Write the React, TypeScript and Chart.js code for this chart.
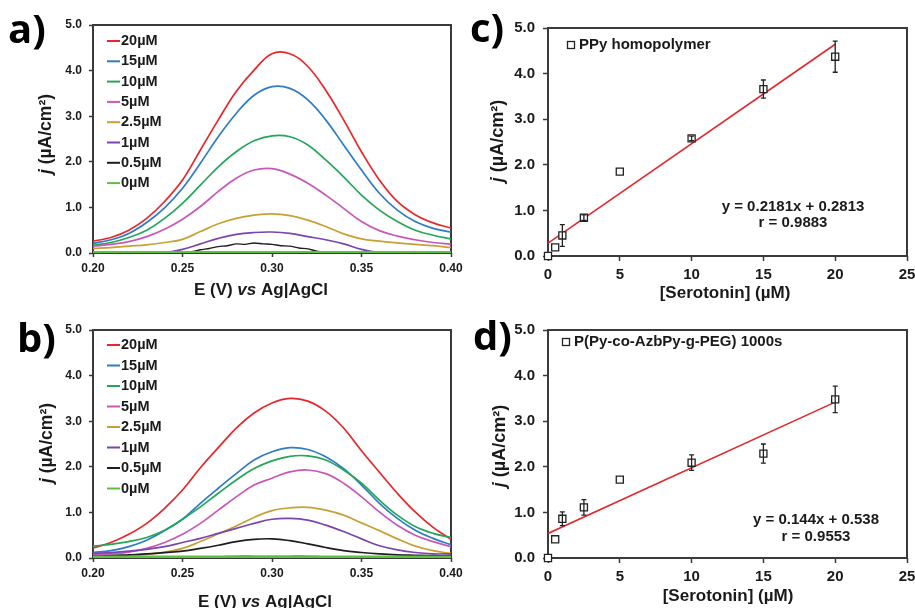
import React, { useEffect, useRef } from "react";
import { Chart, registerables } from "chart.js";
Chart.register(...registerables);

const FONT = '"Liberation Sans", Arial, Helvetica, sans-serif';
const LETTER_FONT = '"Open Sans", "DejaVu Sans", sans-serif';
const INK = "#1a1a1a";
const FRAME = "#3a3a3a";

// ---------- DATA ----------
const potential = [0.2, 0.21, 0.22, 0.23, 0.24, 0.25, 0.26, 0.27, 0.28, 0.29, 0.3, 0.31, 0.32, 0.33, 0.34, 0.35, 0.36, 0.37, 0.38, 0.39, 0.4];
const potentialFine = [0.2, 0.205, 0.21, 0.215, 0.22, 0.225, 0.23, 0.235, 0.24, 0.245, 0.25, 0.255, 0.26, 0.265, 0.27, 0.275, 0.28, 0.285, 0.29, 0.295, 0.3, 0.305, 0.31, 0.315, 0.32, 0.325, 0.33, 0.335, 0.34, 0.345, 0.35, 0.355, 0.36, 0.365, 0.37, 0.375, 0.38, 0.385, 0.39, 0.395, 0.4];

const concLabels = ["20µM", "15µM", "10µM", "5µM", "2.5µM", "1µM", "0.5µM", "0µM"];
const concColors = ["#E8262B", "#2E7BC6", "#23A65A", "#C857B8", "#C9A034", "#7A45B3", "#1E1E1E", "#5CC040"];

// panel a (PPy homopolymer DPV)
const a20 = [0.26, 0.34, 0.5, 0.76, 1.13, 1.6, 2.26, 2.92, 3.54, 4.01, 4.37, 4.37, 4.09, 3.57, 2.92, 2.22, 1.6, 1.13, 0.84, 0.66, 0.55];
const a15 = [0.21, 0.29, 0.43, 0.67, 0.99, 1.42, 1.97, 2.55, 3.06, 3.46, 3.65, 3.61, 3.36, 2.92, 2.37, 1.82, 1.31, 0.94, 0.69, 0.54, 0.46];
const a10 = [0.17, 0.23, 0.34, 0.5, 0.76, 1.09, 1.49, 1.89, 2.22, 2.46, 2.57, 2.55, 2.37, 2.04, 1.67, 1.27, 0.94, 0.69, 0.5, 0.39, 0.31];
const a5 = [0.15, 0.19, 0.25, 0.36, 0.52, 0.74, 1.02, 1.35, 1.64, 1.82, 1.85, 1.73, 1.53, 1.27, 0.98, 0.69, 0.49, 0.37, 0.29, 0.23, 0.19];
const a2_5 = [0.1, 0.12, 0.15, 0.18, 0.23, 0.3, 0.47, 0.64, 0.76, 0.83, 0.86, 0.82, 0.72, 0.58, 0.42, 0.31, 0.26, 0.22, 0.19, 0.16, 0.12];
const a1 = [0, 0, 0, 0, 0.01, 0.08, 0.2, 0.32, 0.41, 0.45, 0.46, 0.43, 0.36, 0.29, 0.2, 0.08, 0.01, 0, 0, 0, 0];
const a0_5 = [0, 0, 0, 0, 0, 0, 0, 0, 0, 0, 0.01, 0.03, 0.07, 0.1, 0.14, 0.16, 0.2, 0.19, 0.22, 0.2, 0.19, 0.16, 0.15, 0.11, 0.09, 0.04, 0.02, 0.01, 0, 0, 0, 0, 0, 0, 0, 0, 0, 0, 0, 0, 0];
const a0 = [0.01, 0.01, 0.01, 0.01, 0.01, 0.01, 0.01, 0.01, 0.01, 0.01, 0.01, 0.01, 0.01, 0.01, 0.01, 0.01, 0.01, 0.01, 0.01, 0.01, 0.01];

// panel b (P(Py-co-AzbPy-g-PEG) DPV)
const b20 = [0.22, 0.34, 0.52, 0.76, 1.09, 1.49, 1.98, 2.42, 2.85, 3.18, 3.4, 3.5, 3.44, 3.22, 2.85, 2.35, 1.88, 1.42, 1.01, 0.67, 0.41];
const b15 = [0.12, 0.16, 0.25, 0.39, 0.6, 0.85, 1.2, 1.53, 1.85, 2.15, 2.33, 2.42, 2.38, 2.22, 1.96, 1.6, 1.2, 0.87, 0.61, 0.43, 0.29];
const b10 = [0.26, 0.3, 0.36, 0.45, 0.61, 0.85, 1.12, 1.42, 1.71, 1.96, 2.13, 2.23, 2.24, 2.15, 1.93, 1.64, 1.27, 0.94, 0.69, 0.54, 0.45];
const b5 = [0.07, 0.09, 0.13, 0.21, 0.34, 0.52, 0.76, 1.05, 1.34, 1.6, 1.75, 1.89, 1.93, 1.85, 1.64, 1.34, 1.01, 0.72, 0.5, 0.36, 0.25];
const b2_5 = [0.03, 0.03, 0.04, 0.08, 0.13, 0.21, 0.36, 0.53, 0.7, 0.89, 1.04, 1.1, 1.11, 1.05, 0.94, 0.77, 0.6, 0.42, 0.26, 0.16, 0.1];
const b1 = [0.1, 0.12, 0.15, 0.19, 0.25, 0.34, 0.43, 0.54, 0.65, 0.76, 0.85, 0.87, 0.83, 0.72, 0.58, 0.42, 0.27, 0.18, 0.12, 0.09, 0.09];
const b0_5 = [0.04, 0.05, 0.07, 0.09, 0.12, 0.15, 0.21, 0.28, 0.36, 0.41, 0.42, 0.38, 0.31, 0.23, 0.16, 0.12, 0.09, 0.07, 0.06, 0.05, 0.05];
const b0 = [0.02, 0.02, 0.02, 0.02, 0.02, 0.02, 0.02, 0.02, 0.03, 0.03, 0.03, 0.03, 0.03, 0.02, 0.02, 0.02, 0.02, 0.02, 0.02, 0.02, 0.02];

// calibration panels c, d
const serotonin = [0, 0.5, 1, 2.5, 5, 10, 15, 20];
const ppyJ = [0, 0.19, 0.45, 0.84, 1.85, 2.58, 3.66, 4.37];
const ppyErr = [0, 0, 0.24, 0.06, 0.03, 0.05, 0.2, 0.34];
const pegJ = [0, 0.41, 0.86, 1.11, 1.72, 2.09, 2.29, 3.48];
const pegErr = [0, 0.03, 0.15, 0.17, 0.03, 0.17, 0.21, 0.29];
const fitX = [0, 20];
const ppyFit = [0.2813, 4.6433];
const pegFit = [0.538, 3.418];
const ppyEq = ["y = 0.2181x + 0.2813", "r = 0.9883"];
const pegEq = ["y = 0.144x + 0.538", "r = 0.9553"];

// ---------- HELPERS ----------
type Seg = { t: string; i?: boolean };

function richText(ctx: CanvasRenderingContext2D, segs: Seg[], cx: number, cy: number, size: number, rot = 0) {
  ctx.save();
  ctx.translate(cx, cy);
  if (rot) ctx.rotate(rot);
  ctx.textBaseline = "middle";
  ctx.textAlign = "left";
  ctx.fillStyle = INK;
  const fonts = segs.map((s) => `${s.i ? "italic " : ""}bold ${size}px ${FONT}`);
  let total = 0;
  const widths = segs.map((s, k) => {
    ctx.font = fonts[k];
    const w = ctx.measureText(s.t).width;
    total += w;
    return w;
  });
  let x = -total / 2;
  segs.forEach((s, k) => {
    ctx.font = fonts[k];
    ctx.fillText(s.t, x, 0);
    x += widths[k];
  });
  ctx.restore();
}

interface Decor {
  letter: string;
  letterX: number;
  letterY: number;
  xTitle: Seg[];
  xTitleX: number;
  xTitleY: number;
  yTitle: Seg[];
  yTitleX: number;
  yTitleY: number;
  titleSize: number;
  yTitleSize: number;
}

function decorPlugin(d: Decor, extra?: (chart: any) => void) {
  return {
    id: "decor",
    beforeDatasetsDraw(chart: any) {
      const { ctx, chartArea: a } = chart;
      ctx.save();
      ctx.strokeStyle = FRAME;
      ctx.lineWidth = 2;
      ctx.strokeRect(a.left, a.top, a.right - a.left, a.bottom - a.top);
      ctx.restore();
    },
    afterDraw(chart: any) {
      const ctx = chart.ctx as CanvasRenderingContext2D;
      ctx.save();
      ctx.font = `bold 40px ${LETTER_FONT}`;
      ctx.fillStyle = "#000";
      ctx.textBaseline = "alphabetic";
      ctx.textAlign = "left";
      ctx.fillText(d.letter, d.letterX, d.letterY);
      ctx.restore();
      richText(ctx, d.xTitle, d.xTitleX, d.xTitleY, d.titleSize);
      richText(ctx, d.yTitle, d.yTitleX, d.yTitleY, d.yTitleSize, -Math.PI / 2);
      if (extra) extra(chart);
    },
  };
}

function axis(min: number, max: number, step: number, dec: number, size: number, tl: number, pad: number, fit: (s: any) => void) {
  return {
    type: "linear",
    min,
    max,
    ticks: {
      stepSize: step,
      callback: (v: any) => Number(v).toFixed(dec),
      font: { family: FONT, size, weight: "bold" },
      color: INK,
      padding: pad,
      autoSkip: false,
      maxRotation: 0,
    },
    grid: { display: true, drawOnChartArea: false, drawTicks: true, tickLength: tl, tickColor: FRAME, tickWidth: 1.5 },
    border: { display: false },
    afterFit: fit,
  };
}

interface Box { W: number; H: number; left: number; top: number; right: number; bottom: number }

function spectraChart(canvas: HTMLCanvasElement, ys: number[][], box: Box, decor: Decor, legendTop: number, legendStep: number) {
  const datasets = ys
    .map((y, i) => {
      const xs = y.length === potentialFine.length ? potentialFine : potential;
      return {
        data: xs.map((x, k) => ({ x, y: y[k] })),
        borderColor: concColors[i],
        borderWidth: i === 7 ? 3 : i === 6 && xs === potentialFine ? 1.4 : 1.7,
        showLine: true,
        pointRadius: 0,
        tension: xs === potentialFine ? 0.2 : 0.4,
      };
    })
    .reverse();
  const legend = (chart: any) => {
    const ctx = chart.ctx as CanvasRenderingContext2D;
    ctx.save();
    ctx.font = `bold 14.5px ${FONT}`;
    ctx.textBaseline = "middle";
    ctx.textAlign = "left";
    concLabels.forEach((lab, i) => {
      const y = legendTop + i * legendStep;
      ctx.strokeStyle = concColors[i];
      ctx.lineWidth = 2;
      ctx.beginPath();
      ctx.moveTo(107, y);
      ctx.lineTo(120, y);
      ctx.stroke();
      ctx.fillStyle = INK;
      ctx.fillText(lab, 121, y);
    });
    ctx.restore();
  };
  return new Chart(canvas, {
    type: "scatter",
    data: { datasets } as any,
    options: {
      responsive: false,
      maintainAspectRatio: false,
      animation: false,
      events: [],
      layout: { padding: { left: 0, top: box.top, right: box.W - box.right, bottom: 0 } },
      plugins: { legend: { display: false }, tooltip: { enabled: false } },
      scales: {
        x: axis(0.2, 0.4, 0.05, 2, 12, 4, 4, (s: any) => {
          s.height = box.H - box.bottom;
          s.paddingLeft = 0;
          s.paddingRight = 0;
        }),
        y: axis(0, 5, 1, 1, 12, 4, 7, (s: any) => {
          s.width = box.left;
          s.paddingTop = 0;
          s.paddingBottom = 0;
        }),
      } as any,
    },
    plugins: [decorPlugin(decor, legend)],
  });
}

function calChart(
  canvas: HTMLCanvasElement,
  j: number[],
  err: number[],
  fit: number[],
  box: Box,
  decor: Decor,
  legendText: string,
  legX: number,
  legY: number,
  eq: string[],
  eqX: number,
  eqY: number,
  eqStep: number
) {
  const extra = (chart: any) => {
    const ctx = chart.ctx as CanvasRenderingContext2D;
    const xs = chart.scales.x;
    const ysc = chart.scales.y;
    ctx.save();
    ctx.strokeStyle = "#222";
    ctx.lineWidth = 1.3;
    serotonin.forEach((c, i) => {
      if (err[i] < 0.04) return;
      const px = xs.getPixelForValue(c);
      const p1 = ysc.getPixelForValue(j[i] + err[i]);
      const p2 = ysc.getPixelForValue(j[i] - err[i]);
      ctx.beginPath();
      ctx.moveTo(px, p1);
      ctx.lineTo(px, p2);
      ctx.moveTo(px - 2.5, p1);
      ctx.lineTo(px + 2.5, p1);
      ctx.moveTo(px - 2.5, p2);
      ctx.lineTo(px + 2.5, p2);
      ctx.stroke();
    });
    // legend
    ctx.lineWidth = 1.3;
    ctx.strokeRect(legX - 3.5, legY - 3.5, 7, 7);
    ctx.fillStyle = INK;
    ctx.font = `bold 15px ${FONT}`;
    ctx.textBaseline = "middle";
    ctx.textAlign = "left";
    ctx.fillText(legendText, legX + 8, legY);
    ctx.textAlign = "center";
    eq.forEach((t, k) => ctx.fillText(t, eqX, eqY + k * eqStep));
    ctx.restore();
  };
  return new Chart(canvas, {
    type: "scatter",
    data: {
      datasets: [
        {
          data: serotonin.map((x, i) => ({ x, y: j[i] })),
          pointStyle: "rect",
          pointRadius: 5,
          pointBackgroundColor: "#fff",
          pointBorderColor: "#222",
          pointBorderWidth: 1.3,
          showLine: false,
          clip: false,
        },
        {
          data: fitX.map((x, i) => ({ x, y: fit[i] })),
          borderColor: "#E0282B",
          borderWidth: 1.6,
          pointRadius: 0,
          showLine: true,
        },
      ],
    } as any,
    options: {
      responsive: false,
      maintainAspectRatio: false,
      animation: false,
      events: [],
      layout: { padding: { left: 0, top: box.top, right: box.W - box.right, bottom: 0 } },
      plugins: { legend: { display: false }, tooltip: { enabled: false } },
      scales: {
        x: axis(0, 25, 5, 0, 15, 5, 5, (s: any) => {
          s.height = box.H - box.bottom;
          s.paddingLeft = 0;
          s.paddingRight = 0;
        }),
        y: axis(0, 5, 1, 1, 15, 5, 8, (s: any) => {
          s.width = box.left;
          s.paddingTop = 0;
          s.paddingBottom = 0;
        }),
      } as any,
    },
    plugins: [decorPlugin(decor, extra)],
  });
}

const ySegs: Seg[] = [{ t: "j", i: true }, { t: " (µA/cm²)" }];
const eSegs: Seg[] = [{ t: "E (V) " }, { t: "vs", i: true }, { t: " Ag|AgCl" }];
const sSegs: Seg[] = [{ t: "[Serotonin] (µM)" }];

function Panel(props: { left: number; top: number; width: number; height: number; build: (c: HTMLCanvasElement) => Chart }) {
  const ref = useRef<HTMLCanvasElement>(null);
  useEffect(() => {
    const chart = props.build(ref.current as HTMLCanvasElement);
    return () => chart.destroy();
  }, []);
  return (
    <canvas
      ref={ref}
      width={props.width}
      height={props.height}
      style={{ position: "absolute", left: props.left, top: props.top, width: props.width, height: props.height }}
    />
  );
}

export default function App() {
  return (
    <div style={{ position: "absolute", left: 0, top: 0, width: 915, height: 608, background: "#fff", overflow: "hidden" }}>
      <Panel
        left={0}
        top={0}
        width={475}
        height={300}
        build={(c) =>
          spectraChart(
            c,
            [a20, a15, a10, a5, a2_5, a1, a0_5, a0],
            { W: 475, H: 300, left: 93, top: 25, right: 451, bottom: 253 },
            { letter: "a)", letterX: 8, letterY: 43, xTitle: eSegs, xTitleX: 261, xTitleY: 290, yTitle: ySegs, yTitleX: 46, yTitleY: 134, titleSize: 17, yTitleSize: 17.5 },
            41,
            20.3
          )
        }
      />
      <Panel
        left={0}
        top={300}
        width={475}
        height={308}
        build={(c) =>
          spectraChart(
            c,
            [b20, b15, b10, b5, b2_5, b1, b0_5, b0],
            { W: 475, H: 308, left: 93, top: 30, right: 451, bottom: 258 },
            { letter: "b)", letterX: 17, letterY: 52, xTitle: eSegs, xTitleX: 265, xTitleY: 302, yTitle: ySegs, yTitleX: 47, yTitleY: 143, titleSize: 17, yTitleSize: 17.5 },
            45,
            20.5
          )
        }
      />
      <Panel
        left={460}
        top={0}
        width={455}
        height={312}
        build={(c) =>
          calChart(
            c,
            ppyJ,
            ppyErr,
            ppyFit,
            { W: 455, H: 312, left: 88, top: 28, right: 447, bottom: 256 },
            { letter: "c)", letterX: 10, letterY: 42, xTitle: sSegs, xTitleX: 265, xTitleY: 293, yTitle: ySegs, yTitleX: 38, yTitleY: 141, titleSize: 17, yTitleSize: 18 },
            "PPy homopolymer",
            111,
            45,
            ppyEq,
            333,
            207,
            16
          )
        }
      />
      <Panel
        left={460}
        top={300}
        width={455}
        height={308}
        build={(c) =>
          calChart(
            c,
            pegJ,
            pegErr,
            pegFit,
            { W: 455, H: 308, left: 88, top: 30, right: 447, bottom: 258 },
            { letter: "d)", letterX: 13, letterY: 50, xTitle: sSegs, xTitleX: 268, xTitleY: 296, yTitle: ySegs, yTitleX: 40, yTitleY: 146, titleSize: 17, yTitleSize: 18 },
            "P(Py-co-AzbPy-g-PEG) 1000s",
            106,
            42,
            pegEq,
            356,
            220,
            17
          )
        }
      />
    </div>
  );
}
